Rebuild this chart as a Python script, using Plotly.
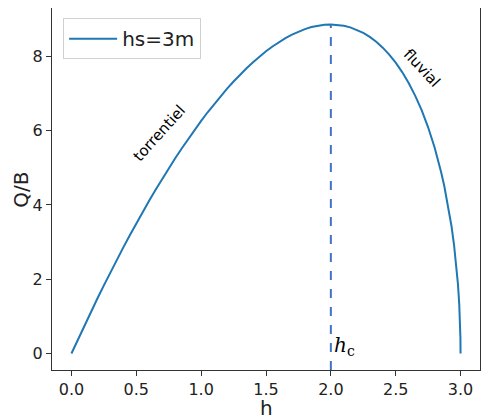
import plotly.graph_objects as go

# water depth h (m) and specific discharge Q/B
h_values = [0.0, 0.05, 0.1, 0.15, 0.2, 0.25, 0.3, 0.35, 0.4, 0.45, 0.5, 0.55, 0.6, 0.65,
            0.7, 0.75, 0.8, 0.85, 0.9, 0.95, 1.0, 1.05, 1.1, 1.15, 1.2, 1.25, 1.3, 1.35,
            1.4, 1.45, 1.5, 1.55, 1.6, 1.65, 1.7, 1.75, 1.8, 1.85, 1.9, 1.95, 2.0, 2.05,
            2.1, 2.15, 2.2, 2.25, 2.3, 2.35, 2.4, 2.45, 2.5, 2.55, 2.6, 2.65, 2.7, 2.75,
            2.8, 2.825, 2.85, 2.875, 2.9, 2.93, 2.95, 2.97, 2.98, 2.99, 2.995, 2.999, 3.0]
q_values = [0.0, 0.380, 0.754, 1.122, 1.482, 1.836, 2.184, 2.524, 2.857, 3.183, 3.502,
            3.813, 4.117, 4.414, 4.702, 4.983, 5.256, 5.521, 5.777, 6.025, 6.264, 6.495,
            6.716, 6.928, 7.131, 7.324, 7.508, 7.681, 7.844, 7.996, 8.137, 8.267, 8.386,
            8.492, 8.586, 8.666, 8.734, 8.788, 8.827, 8.851, 8.859, 8.850, 8.824, 8.780,
            8.716, 8.631, 8.524, 8.392, 8.234, 8.048, 7.830, 7.577, 7.284, 6.944, 6.551,
            6.091, 5.547, 5.235, 4.889, 4.502, 4.062, 3.434, 2.922, 2.279, 1.867, 1.324,
            0.938, 0.420, 0.0]
series_name = "hs=3m"
h_critical = 2.0
q_max = 8.859
x_ticks = [0.0, 0.5, 1.0, 1.5, 2.0, 2.5, 3.0]
x_tick_labels = ["0.0", "0.5", "1.0", "1.5", "2.0", "2.5", "3.0"]
y_ticks = [0, 2, 4, 6, 8]

x_range = [-0.15, 3.15]
y_range = [-0.443, 9.302]

fig = go.Figure()
fig.add_trace(go.Scatter(x=h_values, y=q_values, mode="lines", name=series_name,
                         line=dict(color="#1f77b4", width=2)))

fig.add_shape(type="line", x0=h_critical, x1=h_critical, y0=y_range[0], y1=q_max,
              xref="x", yref="y", line=dict(color="#4472c4", width=2, dash="dash"))

fig.add_annotation(x=h_critical + 0.01, y=-0.2, text="<i>h</i><sub>c</sub>", showarrow=False,
                   xanchor="left", yanchor="bottom",
                   font=dict(family="DejaVu Serif", size=20, color="black"))
fig.add_annotation(x=0.68, y=5.93, text="torrentiel", showarrow=False, textangle=-48,
                   font=dict(family="DejaVu Sans", size=15, color="black"))
fig.add_annotation(x=2.70, y=7.68, text="fluvial", showarrow=False, textangle=47,
                   font=dict(family="DejaVu Sans", size=15, color="black"))

# axis titles
fig.add_annotation(x=0.5, y=-0.104, xref="paper", yref="paper", text="h", showarrow=False,
                   xanchor="center", yanchor="middle",
                   font=dict(family="DejaVu Sans", size=20, color="#222222"))
fig.add_annotation(x=-0.073, y=0.497, xref="paper", yref="paper", text="Q/B", showarrow=False,
                   textangle=-90, xanchor="center", yanchor="middle",
                   font=dict(family="DejaVu Sans", size=20, color="#222222"))

axis_common = dict(showline=True, mirror=True, linecolor="#333333", linewidth=1,
                   ticks="outside", ticklen=5, tickcolor="#333333", showgrid=False,
                   zeroline=False, automargin=False,
                   tickfont=dict(family="DejaVu Sans", size=16, color="#222222"))

# page body has an 8px default margin, so size the figure to fit the window
fig.update_layout(
    width=492, height=412,
    margin=dict(l=44, r=20, t=0, b=50),
    paper_bgcolor="white", plot_bgcolor="white",
    font=dict(family="DejaVu Sans", color="#222222"),
    xaxis=dict(range=x_range, tickvals=x_ticks, ticktext=x_tick_labels, **axis_common),
    yaxis=dict(range=y_range, tickvals=y_ticks, **axis_common),
    legend=dict(x=0.026, y=0.972, xanchor="left", yanchor="top", itemwidth=48,
                bordercolor="#d0d0d0", borderwidth=1, bgcolor="rgba(255,255,255,0.8)",
                font=dict(family="DejaVu Sans", size=20, color="#222222")),
    showlegend=True,
)

fig.write_html("out.html")
